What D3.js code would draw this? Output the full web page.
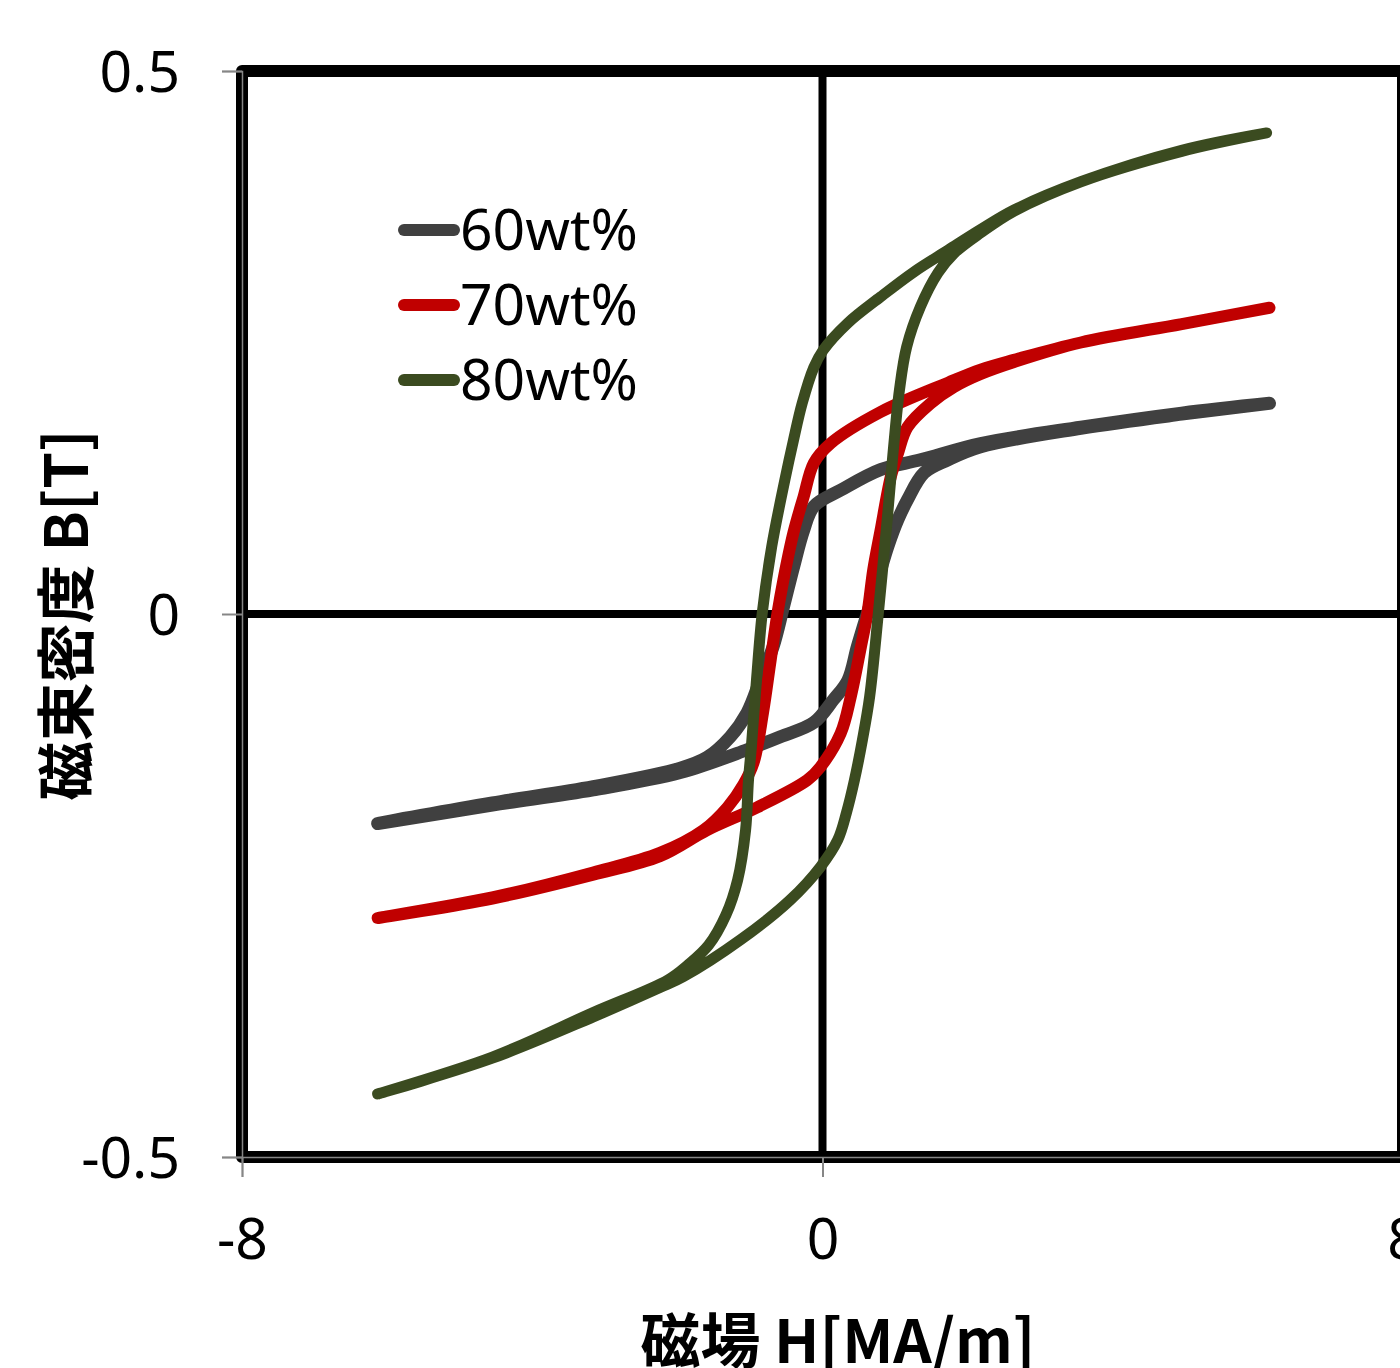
<!DOCTYPE html>
<html>
<head>
<meta charset="utf-8">
<script src="https://cdn.jsdelivr.net/npm/d3@7"></script>
<style>
  html, body { margin: 0; padding: 0; background: #fff; }
  svg { display: block; }
</style>
</head>
<body>
<svg id="chart" width="1400" height="1368"></svg>
<script>
// ---------- data ----------
const seriesNames = ["60wt%", "70wt%", "80wt%"];
const seriesColors = ["#404040", "#c00000", "#3b4b20"];

const xTicks = [-8, 0, 8];
const yTicks = [-0.5, 0, 0.5];
const xTitle = "磁場 H[MA/m]";
const yTitle = "磁束密度 B[T]";

// 60wt% loop: descending branch then ascending branch (H in MA/m, B in T)
const h60 = [6.16, 4.95, 3.56, 2.18, 1.35, 0.80, 0.25, -0.12, -0.26, -0.40, -0.54, -0.68, -0.86, -1.04, -1.27, -1.59, -1.96, -3.16, -4.55, -6.13,
             -4.55, -3.16, -1.96, -1.04, -0.58, -0.12, 0.15, 0.35, 0.48, 0.62, 0.76, 0.90, 1.04, 1.17, 1.40, 1.73, 2.18, 3.56, 4.95, 6.16];
const b60 = [0.194, 0.185, 0.172, 0.157, 0.142, 0.133, 0.114, 0.099, 0.077, 0.043, 0.006, -0.030, -0.061, -0.091, -0.113, -0.132, -0.142, -0.159, -0.174, -0.193,
             -0.176, -0.162, -0.146, -0.125, -0.113, -0.100, -0.079, -0.061, -0.030, 0.001, 0.031, 0.062, 0.087, 0.105, 0.130, 0.142, 0.154, 0.171, 0.184, 0.194];

// 70wt% loop
const h70 = [6.16, 4.95, 3.56, 2.64, 2.18, 1.73, 0.80, 0.11, -0.12, -0.26, -0.40, -0.54, -0.62, -0.72, -0.82, -0.95, -1.09, -1.31, -1.64, -2.24, -3.16, -4.55, -6.13,
             -4.55, -3.16, -2.24, -1.59, -0.90, -0.21, -0.03, 0.25, 0.39, 0.53, 0.62, 0.70, 0.80, 0.94, 1.04, 1.17, 1.49, 1.81, 2.18, 2.64, 3.56, 4.95, 6.16];
const b70 = [0.282, 0.267, 0.250, 0.234, 0.225, 0.213, 0.186, 0.157, 0.139, 0.108, 0.075, 0.031, 0.001, -0.045, -0.091, -0.137, -0.157, -0.178, -0.199, -0.220, -0.238, -0.261, -0.280,
             -0.262, -0.240, -0.223, -0.199, -0.178, -0.153, -0.141, -0.110, -0.076, -0.030, 0.001, 0.041, 0.077, 0.126, 0.148, 0.172, 0.194, 0.209, 0.221, 0.232, 0.250, 0.267, 0.282];

// 80wt% loop
const h80 = [6.12, 4.95, 3.56, 2.64, 2.18, 1.73, 1.26, 0.80, 0.35, 0.01, -0.12, -0.28, -0.40, -0.52, -0.70, -0.83, -0.91, -0.98, -1.02, -1.06, -1.17, -1.33, -1.57, -1.85, -2.13, -3.16, -4.55, -6.13,
             -4.55, -3.16, -2.24, -1.92, -1.13, -0.44, -0.03, 0.21, 0.33, 0.44, 0.55, 0.65, 0.77, 0.90, 0.98, 1.06, 1.16, 1.35, 1.59, 1.81, 2.18, 2.64, 3.56, 4.95, 6.12];
const b80 = [0.443, 0.427, 0.398, 0.372, 0.354, 0.335, 0.315, 0.292, 0.268, 0.243, 0.227, 0.194, 0.160, 0.123, 0.062, 0.001, -0.061, -0.122, -0.153, -0.199, -0.245, -0.277, -0.305, -0.323, -0.337, -0.367, -0.408, -0.442,
             -0.409, -0.371, -0.344, -0.334, -0.300, -0.263, -0.233, -0.208, -0.183, -0.153, -0.116, -0.076, 0.001, 0.093, 0.154, 0.206, 0.246, 0.283, 0.314, 0.332, 0.351, 0.371, 0.398, 0.426, 0.443];

const seriesH = [h60, h70, h80];
const seriesB = [b60, b70, b80];
const seriesWidths = [13, 12, 11];

// ---------- layout ----------
const svg = d3.select("#chart");
const plotL = 242, plotR = 1403, plotT = 71, plotB = 1157;
const x = d3.scaleLinear().domain([-8, 8]).range([plotL, plotR]);
const y = d3.scaleLinear().domain([-0.5, 0.5]).range([plotB, plotT]);

const tickFont = "'Noto Sans', 'Open Sans', sans-serif";
const cjkFont = "'Noto Sans CJK JP', 'Noto Sans CJK SC', sans-serif";

// zero gridlines
svg.append("line")
  .attr("x1", x(0)).attr("x2", x(0)).attr("y1", y(0.5)).attr("y2", y(-0.5))
  .attr("stroke", "#000").attr("stroke-width", 8);
svg.append("line")
  .attr("x1", x(-8)).attr("x2", x(8)).attr("y1", y(0)).attr("y2", y(0))
  .attr("stroke", "#000").attr("stroke-width", 8);

// plot border
svg.append("rect")
  .attr("x", plotL).attr("y", plotT).attr("width", plotR - plotL).attr("height", plotB - plotT)
  .attr("fill", "none").attr("stroke", "#000").attr("stroke-width", 12)
  .attr("stroke-linejoin", "round");

// axes
const yAxis = d3.axisLeft(y).tickValues(yTicks).tickSize(20).tickPadding(42)
  .tickFormat(d => String(d));
const gy = svg.append("g").attr("transform", `translate(${plotL},0)`).call(yAxis);
gy.selectAll("path.domain").attr("stroke", "#868686").attr("stroke-width", 1.5);
gy.selectAll(".tick line").attr("stroke", "#868686").attr("stroke-width", 2);
gy.selectAll(".tick text")
  .attr("font-family", tickFont).attr("font-size", 57).attr("fill", "#000")
  .attr("dy", "0.36em");

const xAxis = d3.axisBottom(x).tickValues(xTicks).tickSize(20)
  .tickFormat(d => String(d));
const gx = svg.append("g").attr("transform", `translate(0,${plotB})`).call(xAxis);
gx.selectAll("path.domain").attr("stroke", "#868686").attr("stroke-width", 1.5);
gx.selectAll(".tick line").attr("stroke", "#868686").attr("stroke-width", 2);
gx.selectAll(".tick text")
  .attr("font-family", tickFont).attr("font-size", 57).attr("fill", "#000")
  .attr("y", 102).attr("dy", 0);

// series
const line = d3.line().x(d => x(d[0])).y(d => y(d[1])).curve(d3.curveCatmullRom.alpha(0.5));
seriesNames.forEach((name, i) => {
  const pts = seriesH[i].map((h, k) => [h, seriesB[i][k]]);
  svg.append("path")
    .datum(pts)
    .attr("d", line)
    .attr("fill", "none")
    .attr("stroke", seriesColors[i])
    .attr("stroke-width", seriesWidths[i])
    .attr("stroke-linecap", "round")
    .attr("stroke-linejoin", "round");
});

// legend
const legendY = [230, 305, 380];
seriesNames.forEach((name, i) => {
  svg.append("line")
    .attr("x1", 404).attr("x2", 454)
    .attr("y1", legendY[i]).attr("y2", legendY[i])
    .attr("stroke", seriesColors[i]).attr("stroke-width", 12)
    .attr("stroke-linecap", "round");
  svg.append("text")
    .attr("x", 460).attr("y", legendY[i] + 20)
    .attr("font-family", tickFont).attr("font-size", 57).attr("fill", "#000")
    .text(name);
});

// axis titles
svg.append("text")
  .attr("x", 838).attr("y", 1363)
  .attr("text-anchor", "middle")
  .attr("font-family", cjkFont).attr("font-weight", "bold").attr("font-size", 60)
  .attr("fill", "#000")
  .text(xTitle);
svg.append("text")
  .attr("transform", "translate(88,615) rotate(-90)")
  .attr("text-anchor", "middle")
  .attr("font-family", cjkFont).attr("font-weight", "bold").attr("font-size", 59)
  .attr("fill", "#000")
  .text(yTitle);
</script>
</body>
</html>
